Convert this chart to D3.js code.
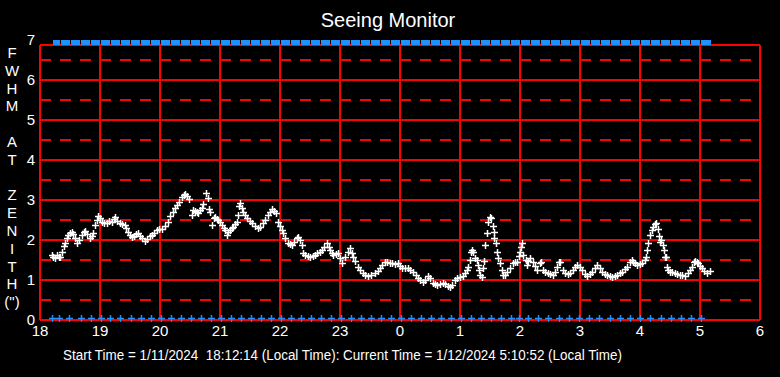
<!DOCTYPE html>
<html>
<head>
<meta charset="utf-8">
<script src="https://d3js.org/d3.v7.min.js"></script>
<style>
* {
    padding: 0px;
    margin: 0px;
}
body {
    background: #000;
}
svg {
    display: block;
    font-family: 'Liberation Sans', Arial, sans-serif;
}
</style>
</head>
<body>
<svg width="780" height="377"></svg>
<script>
// minutes since 18:00 local time, FWHM at zenith (arcsec)
let obsMin = [12,13,15,17,19,20,22,24,25,27,28,30,32,33,35,37,39,42,44,45,47,50,52,53,55,57,58,60,62,64,67,69,72,74,75,77,80,82,85,86,88,90,92,94,96,98,100,102,105,107,110,112,114,117,119,122,125,128,130,133,135,137,139,142,144,145,147,149,152,153,155,157,158,160,162,163,166,168,169,170,172,174,175,177,178,180,182,184,185,187,188,190,192,193,195,197,198,199,200,202,203,205,207,210,212,215,218,220,223,225,228,230,232,234,236,238,240,242,243,245,248,250,252,254,257,258,260,262,263,265,268,270,273,275,277,280,282,284,287,289,290,292,293,296,298,300,302,305,308,310,312,313,315,318,320,323,325,328,331,335,338,340,342,345,347,350,352,355,358,360,362,365,368,370,373,376,378,380,383,385,388,390,393,395,397,400,403,405,408,410,412,415,417,420,423,425,427,428,430,431,432,433,435,437,438,439,440,442,443,444,445,447,448,450,451,453,453.5,454,456,457,458,460,462,463,465,467,470,473,475,477,479,480,481,482,483,486,487,488,490,493,495,497,500,501,503,505,508,510,513,515,517,519,520,523,525,528,530,533,535,537,540,542,545,547,550,552,555,557,560,562,565,567,570,572,575,577,580,582,585,587,590,592,593,595,597,600,602,605,606,607,608,610,612,613,615,616,618,619,620,621,623,624,625,626,627,628,630,632,635,637,640,642,645,648,650,652,654,655,657,658,660,662,664,667,670];
let fwhm = [1.62,1.58,1.55,1.63,1.58,1.57,1.71,1.85,1.92,2.05,2.13,2.18,2.21,2.15,2.04,1.93,2.0,2.13,2.2,2.23,2.15,2.04,2.1,2.17,2.38,2.5,2.6,2.55,2.46,2.42,2.43,2.48,2.46,2.52,2.58,2.48,2.42,2.4,2.38,2.3,2.21,2.13,2.07,2.1,2.14,2.17,2.1,2.05,1.98,2.03,2.1,2.13,2.18,2.25,2.27,2.27,2.35,2.46,2.6,2.71,2.8,2.88,2.95,3.08,3.12,3.15,3.1,3.02,2.63,2.75,2.73,2.7,2.67,2.75,2.79,2.9,3.17,3.04,2.77,2.7,2.38,2.55,2.57,2.52,2.5,2.45,2.38,2.3,2.25,2.13,2.2,2.25,2.3,2.33,2.4,2.46,2.63,2.85,2.93,2.8,2.71,2.62,2.54,2.48,2.42,2.35,2.29,2.33,2.42,2.5,2.63,2.7,2.77,2.72,2.67,2.46,2.35,2.25,2.17,2.05,1.92,1.9,1.88,1.95,2.04,2.08,2.0,1.88,1.67,1.62,1.6,1.58,1.6,1.63,1.67,1.7,1.75,1.82,1.92,1.82,1.75,1.68,1.63,1.65,1.67,1.55,1.42,1.58,1.7,1.79,1.68,1.58,1.48,1.33,1.25,1.17,1.13,1.1,1.12,1.17,1.22,1.29,1.38,1.46,1.45,1.42,1.42,1.4,1.42,1.36,1.29,1.3,1.29,1.25,1.21,1.12,1.05,1.0,0.96,1.0,1.1,1.05,0.92,0.9,0.88,0.9,0.92,0.9,0.85,0.82,0.88,1.0,1.05,1.08,1.1,1.17,1.25,1.33,1.5,1.7,1.75,1.7,1.54,1.5,1.38,1.25,1.13,1.08,1.29,1.48,1.88,2.17,2.46,2.58,2.55,2.35,2.2,2.04,1.92,1.7,1.54,1.42,1.25,1.13,1.12,1.21,1.29,1.42,1.45,1.46,1.6,1.71,1.82,1.92,1.62,1.5,1.38,1.48,1.54,1.46,1.35,1.25,1.42,1.45,1.25,1.2,1.17,1.15,1.13,1.2,1.33,1.45,1.46,1.25,1.18,1.15,1.18,1.25,1.32,1.38,1.32,1.25,1.15,1.1,1.15,1.21,1.3,1.38,1.3,1.21,1.15,1.13,1.09,1.07,1.1,1.13,1.18,1.21,1.28,1.33,1.45,1.5,1.46,1.42,1.38,1.4,1.42,1.5,1.58,1.75,1.92,2.12,2.25,2.33,2.4,2.42,2.27,2.1,1.96,2.0,1.88,1.75,1.58,1.57,1.33,1.25,1.21,1.19,1.17,1.15,1.13,1.12,1.1,1.17,1.25,1.33,1.45,1.48,1.45,1.42,1.35,1.29,1.22,1.17,1.23];

// blue status marks along the top (value 7) and bottom (value 0)
let topMarks = [12,20,30,40,50,60,70,80,90,100,110,120,130,140,150,160,170,180,190,200,210,220,230,240,250,260,270,280,290,300,310,320,330,340,350,360,370,380,390,400,410,420,430,440,450,460,470,480,490,500,510,520,530,540,550,560,570,580,590,600,610,620,630,640,650,660,671];
let bottomMarks = [12,19,29,41,51,61,70,80,91,101,111,121,131,141,151,161,171,181,191,201,211,221,231,241,251,261,271,281,291,301,311,321,331,341,351,361,371,381,391,401,411,421,431,441,451,461,471,479,488,498,508,519,529,539,549,559,570,580,590,600,610,621,631,641,651,661];

let hourTicks = [0,60,120,180,240,300,360,420,480,540,600,660,720];
let hourLabels = ["18","19","20","21","22","23","0","1","2","3","4","5","6"];
let yTicks = [0,1,2,3,4,5,6,7];
let yHalf = [0.5,1.5,2.5,3.5,4.5,5.5,6.5];
let yTitle = ["F","W","H","M","","A","T","","Z","E","N","I","T","H","(\")"];

let svg = d3.select("svg");

let x = d3.scaleLinear().domain([0, 720]).range([40, 760]);
let y = d3.scaleLinear().domain([0, 7]).range([320, 40]);
let plotTop = 45;

// title
svg.append("text")
    .attr("x", 388).attr("y", 27)
    .attr("text-anchor", "middle")
    .attr("fill", "#fff")
    .attr("font-size", "20px")
    .text("Seeing Monitor");

// grid
let grid = svg.append("g").attr("stroke", "#ff0000").attr("stroke-width", 1.5).attr("shape-rendering", "crispEdges");

grid.selectAll(".half").data(yHalf).enter()
    .append("line")
    .attr("x1", 40).attr("x2", 760)
    .attr("y1", (d) => y(d)).attr("y2", (d) => y(d))
    .attr("stroke-dasharray", "11,9");

grid.selectAll(".full").data(yTicks.filter((d) => d > 0 && d < 7)).enter()
    .append("line")
    .attr("x1", 40).attr("x2", 760)
    .attr("y1", (d) => y(d)).attr("y2", (d) => y(d));

grid.selectAll(".vert").data(hourTicks).enter()
    .append("line")
    .attr("x1", (d) => x(d)).attr("x2", (d) => x(d))
    .attr("y1", plotTop).attr("y2", y(0));

grid.append("line").attr("x1", 40).attr("x2", 760).attr("y1", plotTop).attr("y2", plotTop);
grid.append("line").attr("x1", 40).attr("x2", 760).attr("y1", y(0)).attr("y2", y(0));

// y labels
svg.selectAll(".ylab").data(yTicks).enter()
    .append("text")
    .attr("x", 35).attr("y", (d) => y(d) + 4.5)
    .attr("text-anchor", "end")
    .attr("fill", "#fff")
    .attr("font-size", "15px")
    .text((d) => d);

// x labels
svg.selectAll(".xlab").data(hourTicks).enter()
    .append("text")
    .attr("x", (d) => x(d)).attr("y", 336)
    .attr("text-anchor", "middle")
    .attr("fill", "#fff")
    .attr("font-size", "15px")
    .text((d, i) => hourLabels[i]);

// vertical y-axis title
svg.selectAll(".ytitle").data(yTitle).enter()
    .append("text")
    .attr("x", 12).attr("y", (d, i) => 58 + i * 17.8)
    .attr("text-anchor", "middle")
    .attr("fill", "#fff")
    .attr("font-size", "15px")
    .text((d) => d);

// blue marks at top
let blue = "#1e90ff";
svg.selectAll(".topmark").data(topMarks.slice(0, -1)).enter()
    .append("rect")
    .attr("x", (d, i) => x(d) + 1)
    .attr("width", (d, i) => x(topMarks[i + 1]) - x(d) - 1)
    .attr("y", y(7))
    .attr("height", plotTop - y(7))
    .attr("fill", blue);

let cross = "M-3.5,0H3.5M0,-3.5V3.5";

svg.selectAll(".botmark").data(bottomMarks).enter()
    .append("path")
    .attr("transform", (d) => "translate(" + (Math.round(x(d)) + 0.5) + "," + (y(0) - 1.5) + ")")
    .attr("d", cross)
    .attr("stroke", blue)
    .attr("stroke-width", 1.5)
    .attr("fill", "none");

// seeing data
svg.selectAll(".pt").data(obsMin).enter()
    .append("path")
    .attr("transform", (d, i) => "translate(" + (Math.round(x(d)) + 0.5) + "," + (Math.round(y(fwhm[i])) + 0.5) + ")")
    .attr("d", cross)
    .attr("stroke", "#fff")
    .attr("stroke-width", 1.5)
    .attr("fill", "none");

// footer
svg.append("text")
    .attr("x", 63).attr("y", 360)
    .attr("fill", "#fff")
    .attr("font-size", "14px")
    .attr("textLength", 559)
    .attr("lengthAdjust", "spacingAndGlyphs")
    .style("white-space", "pre")
    .text("Start Time = 1/11/2024  18:12:14 (Local Time): Current Time = 1/12/2024 5:10:52 (Local Time)");
</script>
</body>
</html>
